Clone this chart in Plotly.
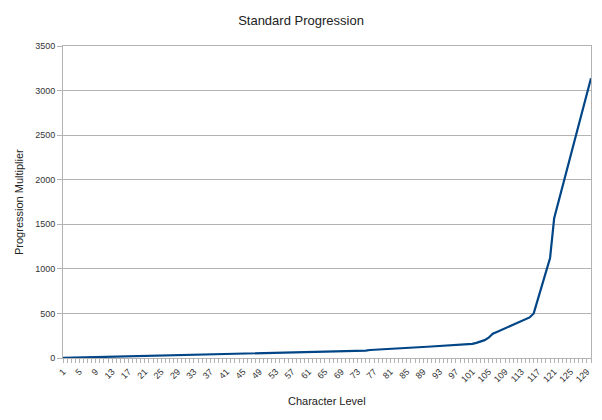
import plotly.graph_objects as go

levels = list(range(1, 131))
multiplier = [
    1, 2, 3, 4, 5, 6, 7, 8, 9, 10, 11, 12, 13, 14, 15, 16, 17, 18, 19, 20,
    21, 22, 23, 24, 26, 27, 28, 29, 30, 31, 32, 33, 34, 35, 36, 37, 38, 39, 41,
    42, 43, 44, 45, 46, 47, 48, 48, 49, 50, 51, 52, 53, 53, 54, 55, 56,
    57, 58, 60, 61, 62, 63, 64, 66, 67, 68, 69, 70, 72, 73, 74, 75, 76, 78,
    83, 90,
    92, 95, 97, 100, 102, 105,
    108, 110, 113, 116, 118, 121, 124, 126, 129, 132, 134, 137, 140, 142, 145, 148, 150, 153,
    158, 170, 185, 200, 228,
    272,
    292, 312, 332, 352, 372, 392, 412, 432, 455,
    500,
    655, 810, 965, 1122,
    1567,
    1742, 1916, 2091, 2265, 2440, 2615, 2789, 2964, 3138,
]
tick_levels = list(range(1, 131, 4))
tick_labels = [str(v) for v in tick_levels]
y_ticks = list(range(0, 3501, 500))

font = "Liberation Sans, Arial, sans-serif"

fig = go.Figure(go.Scatter(
    x=levels, y=multiplier, mode="lines",
    line=dict(color="#004586", width=2.2),
    hoverinfo="skip",
))

fig.update_layout(
    width=602, height=420,
    margin=dict(l=63, r=11, t=46, b=62, autoexpand=False),
    paper_bgcolor="white", plot_bgcolor="white",
    showlegend=False,
    font=dict(family=font, color="#333333"),
    title=dict(text="Standard Progression", x=0.5, xanchor="center",
               y=1 - 20 / 420, yanchor="middle",
               font=dict(size=13, color="#222222", family=font)),
    annotations=[
        dict(text="Character Level", xref="paper", yref="paper",
             x=0.5, y=-(401 - 358) / 312, xanchor="center", yanchor="middle",
             showarrow=False, font=dict(size=11, color="#222222", family=font)),
        dict(text="Progression Multiplier", xref="paper", yref="paper",
             x=-(63 - 19) / 528, y=0.5, xanchor="center", yanchor="middle",
             textangle=-90, showarrow=False,
             font=dict(size=11, color="#222222", family=font)),
    ],
)

fig.update_xaxes(
    range=[1, 130], automargin=False,
    tickmode="array", tickvals=tick_levels, ticktext=tick_labels,
    tickangle=-45, tickfont=dict(size=9, color="#333333"),
    ticks="outside", ticklen=4, tickcolor="#b3b3b3",
    minor=dict(dtick=1, tick0=1, ticks="outside", ticklen=4, tickcolor="#b3b3b3", showgrid=False),
    showgrid=False, zeroline=False,
    showline=True, linecolor="#b3b3b3", linewidth=1, mirror=True,
)

fig.update_yaxes(
    range=[0, 3500], automargin=False,
    tickmode="array", tickvals=y_ticks,
    tickfont=dict(size=9, color="#333333"),
    ticks="outside", ticklen=5, tickcolor="#b3b3b3",
    showgrid=True, gridcolor="#b3b3b3", gridwidth=1,
    zeroline=False,
    showline=True, linecolor="#b3b3b3", linewidth=1, mirror=True,
)

fig.write_html("out.html")
